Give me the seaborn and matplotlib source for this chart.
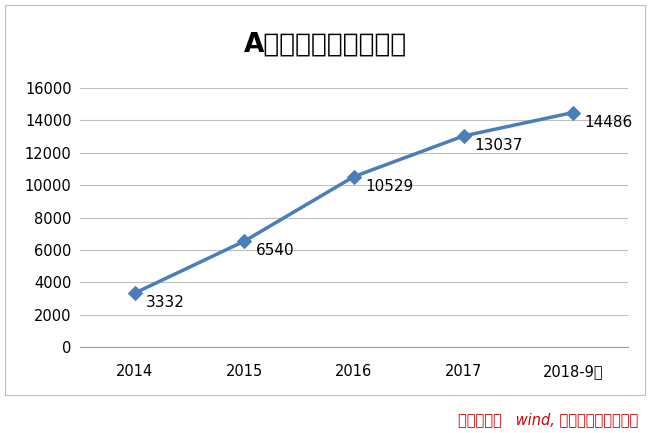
import matplotlib
matplotlib.use("Agg")
import matplotlib.pyplot as plt
from matplotlib import font_manager
import seaborn as sns
import pandas as pd
from matplotlib.patches import Rectangle

years = ["2014", "2015", "2016", "2017", "2018-9月"]
goodwill = [3332, 6540, 10529, 13037, 14486]
yticks = list(range(0, 16001, 2000))

# find a CJK font actually registered with matplotlib
cjk = [f.name for f in font_manager.fontManager.ttflist if "CJK" in f.name]
if not cjk:
    import glob
    for path in glob.glob("/usr/share/fonts/**/*CJK*", recursive=True):
        try:
            font_manager.fontManager.addfont(path)
        except Exception:
            pass
    cjk = [f.name for f in font_manager.fontManager.ttflist if "CJK" in f.name]
sc = [n for n in cjk if n.endswith("SC")]
plt.rcParams["font.family"] = "sans-serif"
plt.rcParams["font.sans-serif"] = ["DejaVu Sans"] + (sc or cjk)

df = pd.DataFrame({"year": years, "value": goodwill})

fig = plt.figure(figsize=(6.51, 4.33), dpi=100)
ax = fig.add_axes([80 / 651, 1 - 347 / 433, 548 / 651, 259 / 433])

fig.patches.append(Rectangle((5 / 651, 1 - 395 / 433), 640 / 651, 390 / 433,
                             transform=fig.transFigure, fill=False,
                             edgecolor="#bfbfbf", lw=0.8))

sns.lineplot(data=df, x="year", y="value", ax=ax, color="#4a7ebb", lw=2.5,
             marker="D", markersize=7, markeredgecolor="#4a7ebb", sort=False)
for i, v in enumerate(goodwill):
    ax.annotate(str(v), (i, v), xytext=(8, -7), textcoords="offset points",
                fontsize=11, va="center", ha="left")

ax.set_xlim(-0.5, len(years) - 0.5)
ax.set_ylim(0, 16000)
ax.set_yticks(yticks)
ax.grid(axis="y", color="#c0c0c0", lw=0.8)
ax.set_axisbelow(True)
for s in ["top", "right", "left"]:
    ax.spines[s].set_visible(False)
ax.spines["bottom"].set_color("#a0a0a0")
ax.tick_params(axis="both", length=0, labelsize=10.5, pad=6)
ax.tick_params(axis="x", pad=12)
ax.set_xlabel("")
ax.set_ylabel("")

fig.text(0.5, 1 - 45 / 433, "A股商誉总额（亿元）", ha="center", va="center",
         fontsize=19, fontweight="bold")
fig.text(638 / 651, 1 - 420 / 433, "数据来源：   wind, 苏宁金融研究院整理",
         ha="right", va="center", fontsize=10.5, color="#d00000", style="italic")

fig.savefig("out.png", dpi=100)
